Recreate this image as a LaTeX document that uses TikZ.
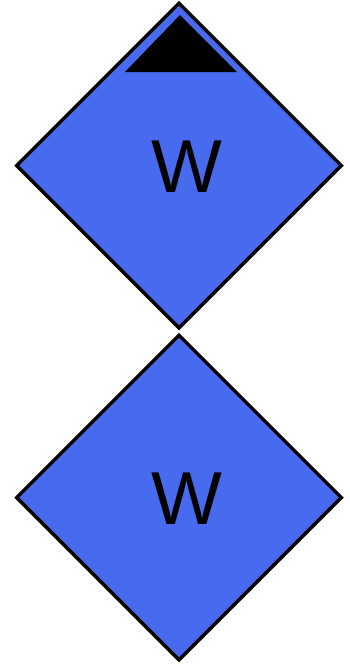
\documentclass[tikz,border=0pt]{standalone}
\usepackage{fontspec}
\setmainfont{Liberation Sans}
\usepackage{xcolor}
\usetikzlibrary{shapes.geometric, calc, positioning}
\definecolor{wblue}{RGB}{72,106,238}

\begin{document}
\begin{tikzpicture}[x=1pt, y=-1pt,
		wbox/.style={diamond, shape aspect=1, draw=black, fill=wblue, line width=3.5pt,
			minimum width=326pt, minimum height=326pt, inner sep=0pt},
		letter/.style={font=\fontsize{75}{75}\selectfont, inner sep=0pt, anchor=base}]
			\useasboundingbox (0,0) rectangle (350,665);
			\node[wbox] (upper) at (179,165.5) {};
			\node[wbox] (lower) at (179,497.5) {};
			\fill[black] ($(upper.center)+(1,-150.5)$) -- ($(upper.center)+(58,-93.5)$)
			-- ($(upper.center)+(-54,-93.5)$) -- cycle;
			\node[letter] (upperW) at ($(upper.center)+(8,26.5)$) {W};
			\node[letter] (lowerW) at ($(lower.center)+(8,26.5)$) {W};
		\end{tikzpicture}
\end{document}
